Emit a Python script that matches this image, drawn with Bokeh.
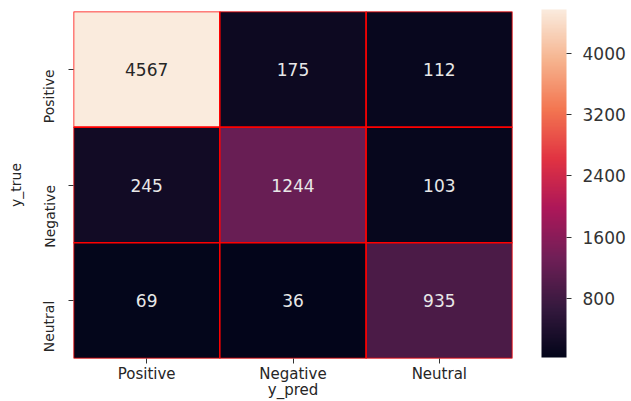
import numpy as np
from bokeh.plotting import figure
from bokeh.models import (ColumnDataSource, LinearColorMapper, ColorBar,
                          FixedTicker, FactorRange)
from bokeh.transform import transform
from bokeh.core.properties import value
from bokeh.embed import file_html
from bokeh.resources import INLINE

# Confusion matrix: rows are true classes, columns are predicted classes
classes = ["Positive", "Negative", "Neutral"]
row_positive = [4567, 175, 112]
row_negative = [245, 1244, 103]
row_neutral = [69, 36, 935]
colorbar_ticks = [800, 1600, 2400, 3200, 4000]

matrix = [row_positive, row_negative, row_neutral]

# "rocket"-style sequential palette built from a few anchor colours
anchors = ["#03051A", "#35193E", "#701F57", "#AD1759", "#E13342",
           "#F37651", "#F6B48F", "#FAEBDD"]
anchor_rgb = np.array([[int(c[i:i + 2], 16) for i in (1, 3, 5)] for c in anchors], float)
pos = np.linspace(0, 1, len(anchors))
t = np.linspace(0, 1, 256)
palette = ["#%02x%02x%02x" % tuple(int(round(np.interp(v, pos, anchor_rgb[:, k]))) for k in range(3))
           for v in t]

flat = [v for row in matrix for v in row]
lo, hi = min(flat), max(flat)

xs, ys, vals, txt, tcol = [], [], [], [], []
for i, true_cls in enumerate(classes):
    for j, pred_cls in enumerate(classes):
        v = matrix[i][j]
        xs.append(pred_cls)
        ys.append(true_cls)
        vals.append(v)
        txt.append(str(v))
        tcol.append("#262626" if (v - lo) / (hi - lo) > 0.6 else "#e8e8e8")

src = ColumnDataSource(dict(x=xs, y=ys, v=vals, t=txt, c=tcol))
mapper = LinearColorMapper(palette=palette, low=lo, high=hi)

W, H = 631, 401
LEFT, RIGHT, TOP, BOTTOM = 73, 119, 11, 42

p = figure(width=W, height=H, output_backend="svg", toolbar_location=None,
           x_range=FactorRange(*classes), y_range=FactorRange(*reversed(classes)),
           min_border_left=LEFT, min_border_right=RIGHT, min_border_top=TOP,
           min_border_bottom=BOTTOM, background_fill_color="white",
           border_fill_color="white", outline_line_color=None)

p.rect(x="x", y="y", width=1, height=1, source=src,
       fill_color=transform("v", mapper), line_color="#ff0000", line_width=1.5)
p.text(x="x", y="y", text="t", source=src, text_align="center",
       text_baseline="middle", text_color="c", text_font=value("DejaVu Sans"),
       text_font_size="17px")

p.grid.visible = False
for ax in (p.xaxis[0], p.yaxis[0]):
    ax.axis_line_color = None
    ax.major_tick_in = 0
    ax.major_tick_out = 5
    ax.major_tick_line_color = "#333333"
    ax.minor_tick_line_color = None
    ax.major_label_text_font = "DejaVu Sans"
    ax.major_label_text_color = "#262626"
    ax.axis_label_text_font = "DejaVu Sans"
    ax.axis_label_text_font_style = "normal"
    ax.axis_label_text_color = "#262626"

p.xaxis.axis_label = "y_pred"
p.xaxis.major_label_text_font_size = "15px"
p.xaxis.axis_label_text_font_size = "15px"
p.xaxis.major_label_standoff = 1
p.xaxis.axis_label_standoff = -5

p.yaxis.axis_label = "y_true"
p.yaxis.major_label_text_font_size = "14px"
p.yaxis.axis_label_text_font_size = "14px"
p.yaxis.major_label_orientation = np.pi / 2
p.yaxis.major_label_standoff = 19
p.yaxis.axis_label_standoff = 7

# colour bar sits to the right of the frame, in the reserved right border
frame_h = H - TOP - BOTTOM
cbar = ColorBar(color_mapper=mapper, ticker=FixedTicker(ticks=colorbar_ticks),
                width=25, height=frame_h, padding=0, margin=0,
                location=(W - LEFT - RIGHT + 29, 1),
                major_tick_in=0, major_tick_out=5,
                major_tick_line_color="#333333", minor_tick_line_color=None,
                major_label_text_font="DejaVu Sans",
                major_label_text_font_size="17px",
                major_label_text_color="#333333", label_standoff=11,
                bar_line_color=None, border_line_color=None,
                background_fill_color=None)
p.add_layout(cbar, "center")

open("out.html", "w").write(file_html(p, INLINE))
